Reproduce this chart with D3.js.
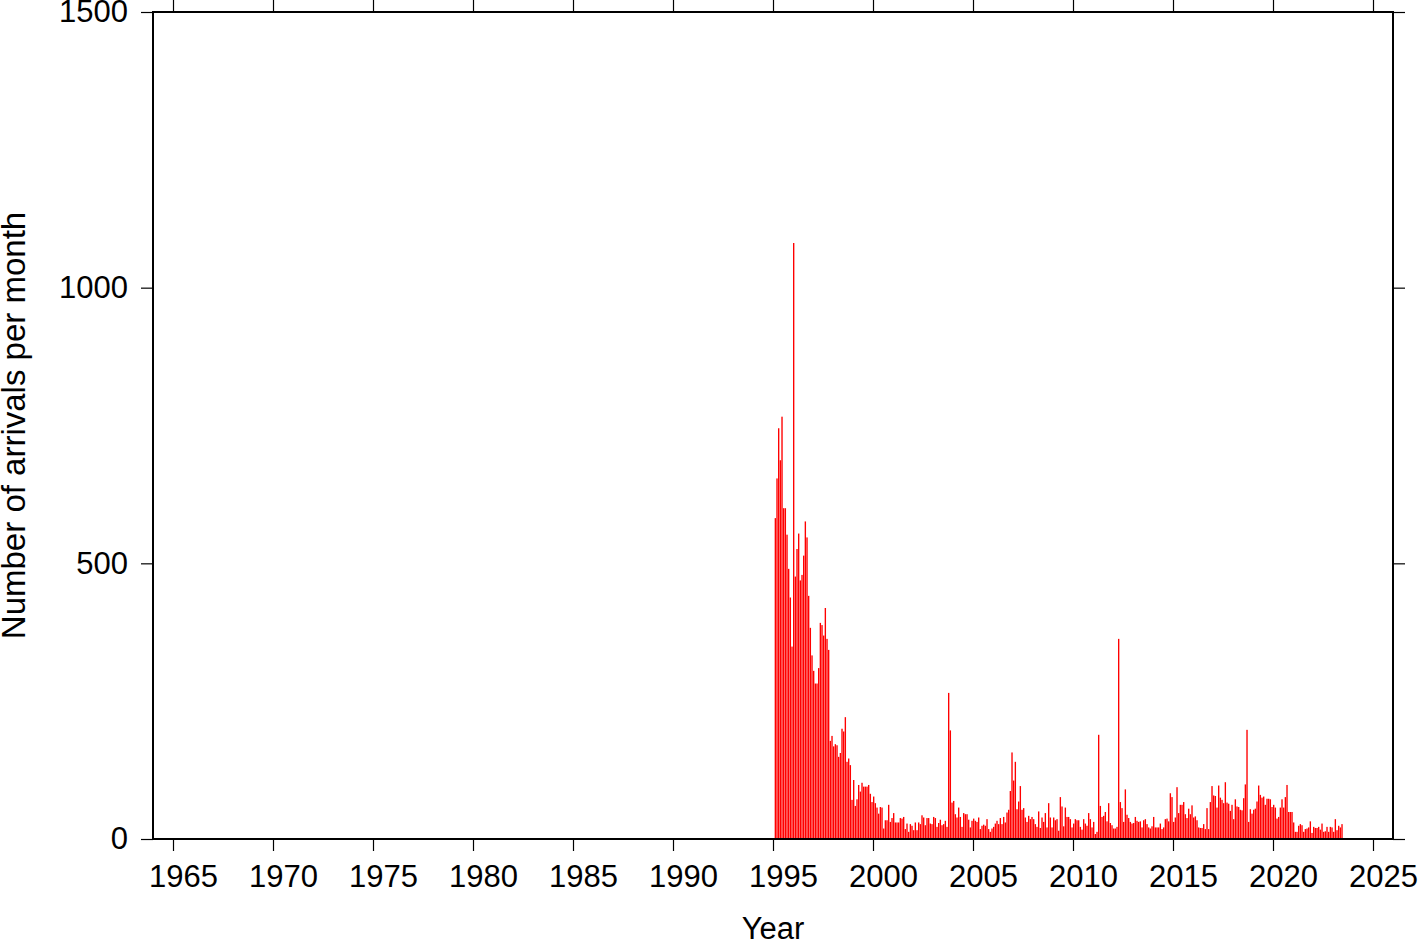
<!DOCTYPE html>
<html>
<head>
<meta charset="utf-8">
<script src="https://cdn.jsdelivr.net/npm/d3@7"></script>
<style>
  body { margin: 0; background: #fff; }
  svg { display: block; }
  text { font-family: "Liberation Sans", Arial, Helvetica, sans-serif; fill: #000; }
</style>
</head>
<body>
<svg id="chart" width="1419" height="942"></svg>
<script>
// ---- data ----
const seriesStartYear = 1995;
const seriesStartMonth = 2; // February 1995
const monthlyArrivals = [
  /*1995*/ 582, 654, 745, 687, 766, 600, 600, 552, 490, 438, 349,
  /*1996*/ 1081, 476, 526, 554, 469, 479, 514, 576, 547, 441, 383, 333,
  /*1997*/ 305, 282, 282, 310, 392, 388, 369, 419, 363, 343, 178, 187,
  /*1998*/ 168, 172, 170, 149, 156, 200, 195, 221, 140, 146, 134, 71,
  /*1999*/ 107, 60, 72, 98, 86, 102, 95, 95, 95, 98, 82, 67,
  /*2000*/ 77, 65, 57, 46, 58, 57, 19, 34, 34, 62, 31, 38,
  /*2001*/ 47, 30, 30, 30, 38, 37, 40, 18, 28, 13, 27, 24,
  /*2002*/ 16, 30, 16, 30, 27, 43, 39, 25, 38, 38, 28, 27,
  /*2003*/ 40, 38, 22, 29, 35, 25, 27, 33, 22, 265, 197, 66,
  /*2004*/ 69, 45, 39, 57, 40, 22, 47, 45, 45, 35, 21, 33,
  /*2005*/ 37, 33, 31, 39, 18, 24, 26, 24, 36, 18, 13, 19,
  /*2006*/ 22, 28, 33, 27, 38, 27, 40, 30, 48, 53, 87, 157,
  /*2007*/ 106, 140, 54, 68, 96, 53, 56, 39, 31, 42, 36, 40,
  /*2008*/ 36, 27, 22, 50, 20, 39, 31, 47, 21, 65, 39, 21,
  /*2009*/ 39, 34, 36, 15, 76, 59, 23, 57, 40, 40, 36, 21,
  /*2010*/ 28, 36, 34, 34, 22, 17, 36, 28, 24, 47, 36, 21,
  /*2011*/ 31, 9, 13, 189, 60, 40, 42, 49, 32, 65, 29, 25,
  /*2012*/ 19, 19, 22, 363, 67, 56, 31, 90, 44, 38, 31, 28,
  /*2013*/ 29, 40, 33, 31, 32, 21, 34, 36, 27, 21, 19, 23,
  /*2014*/ 40, 21, 21, 21, 28, 18, 21, 36, 37, 32, 83, 76,
  /*2015*/ 31, 39, 94, 47, 62, 62, 67, 45, 38, 55, 45, 61,
  /*2016*/ 39, 41, 34, 21, 20, 20, 27, 18, 56, 18, 67, 96,
  /*2017*/ 79, 78, 57, 97, 75, 71, 65, 103, 66, 64, 51, 62,
  /*2018*/ 36, 72, 59, 58, 53, 52, 74, 99, 198, 31, 54, 46,
  /*2019*/ 53, 55, 68, 97, 80, 75, 77, 62, 73, 73, 72, 58,
  /*2020*/ 62, 57, 37, 40, 57, 72, 57, 76, 98, 49, 49, 49,
  /*2021*/ 30, 13, 13, 24, 27, 25, 13, 18, 19, 21, 32, 11,
  /*2022*/ 22, 20, 20, 22, 17, 28, 13, 14, 22, 13, 22, 21,
  /*2023*/ 13, 36, 16, 24, 21, 27
];
const xTickYears = [1965, 1970, 1975, 1980, 1985, 1990, 1995, 2000, 2005, 2010, 2015, 2020, 2025];
const yTickValues = [0, 500, 1000, 1500];
const xDomain = [1964, 2026];
const yDomain = [0, 1500];
const xTitle = "Year";
const yTitle = "Number of arrivals per month";

// ---- layout ----
const plot = { left: 153, right: 1393, top: 12, bottom: 839 };
const svg = d3.select("#chart");
const x = d3.scaleLinear().domain(xDomain).range([plot.left, plot.right]);
const y = d3.scaleLinear().domain(yDomain).range([plot.bottom, plot.top]);

const bars = monthlyArrivals.map((v, i) => {
  const t0 = seriesStartYear + (seriesStartMonth - 1 + i) / 12;
  return { t0, t1: t0 + 1 / 12, v };
});

// bars
svg.append("g")
  .selectAll("rect")
  .data(bars)
  .join("rect")
  .attr("x", d => x(d.t0))
  .attr("width", d => Math.max(0.5, x(d.t1) - x(d.t0) - 0.3))
  .attr("y", d => y(d.v))
  .attr("height", d => y(0) - y(d.v))
  .attr("fill", "#ff0000");

const fontSize = 31;

// bottom axis
const gB = svg.append("g")
  .attr("transform", `translate(0,${plot.bottom})`)
  .call(d3.axisBottom(x).tickValues(xTickYears).tickSize(12).tickPadding(14).tickFormat(d3.format("d")));
gB.selectAll("text")
  .attr("x", d => x(d + 0.5) - x(d))
  .style("font-size", fontSize + "px");

// top axis (ticks only)
svg.append("g")
  .attr("transform", `translate(0,${plot.top})`)
  .call(d3.axisTop(x).tickValues(xTickYears).tickSize(12).tickFormat(""));

// left axis
const gL = svg.append("g")
  .attr("transform", `translate(${plot.left},0)`)
  .call(d3.axisLeft(y).tickValues(yTickValues).tickSize(12).tickPadding(13).tickFormat(d3.format("d")));
gL.selectAll("text").style("font-size", fontSize + "px");

// right axis (ticks only)
svg.append("g")
  .attr("transform", `translate(${plot.right},0)`)
  .call(d3.axisRight(y).tickValues(yTickValues).tickSize(12).tickFormat(""));

svg.selectAll(".domain").remove();
svg.selectAll(".tick line").attr("stroke", "#000").attr("stroke-width", 1.2);
svg.selectAll(".tick text").attr("fill", "#000").style("font-family", '"Liberation Sans", Arial, Helvetica, sans-serif');

// frame
svg.append("rect")
  .attr("x", plot.left)
  .attr("y", plot.top)
  .attr("width", plot.right - plot.left)
  .attr("height", plot.bottom - plot.top)
  .attr("fill", "none")
  .attr("stroke", "#000")
  .attr("stroke-width", 2);

// titles
svg.append("text")
  .attr("x", (plot.left + plot.right) / 2)
  .attr("y", 939)
  .attr("text-anchor", "middle")
  .style("font-size", fontSize + "px")
  .text(xTitle);

svg.append("text")
  .attr("transform", `translate(25,${(plot.top + plot.bottom) / 2}) rotate(-90)`)
  .attr("text-anchor", "middle")
  .style("font-size", "33px")
  .text(yTitle);
</script>
</body>
</html>
